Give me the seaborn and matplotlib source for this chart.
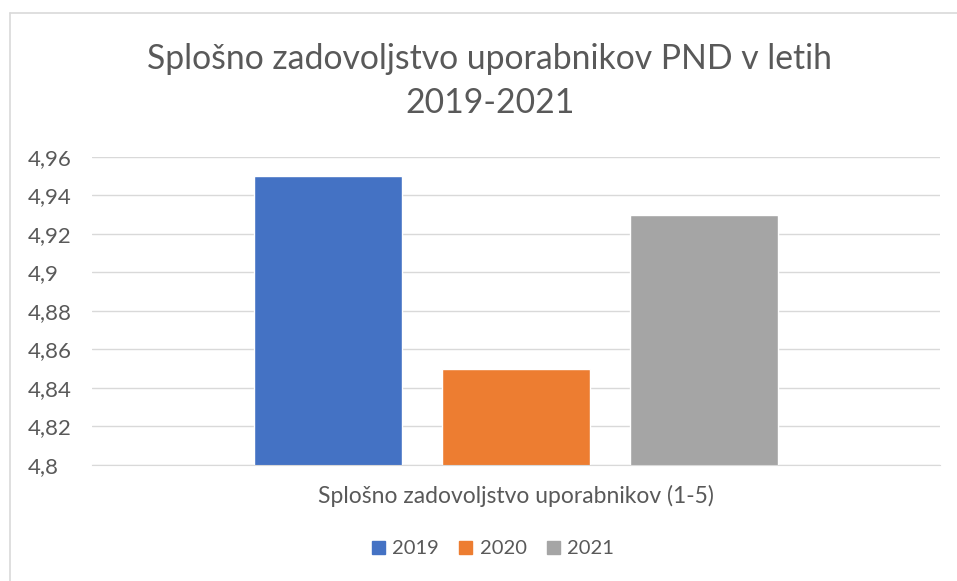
import matplotlib
matplotlib.use("Agg")
import matplotlib.pyplot as plt
import matplotlib.ticker as mticker
from matplotlib.lines import Line2D
import pandas as pd
import seaborn as sns

# data
category = ["Splošno zadovoljstvo uporabnikov (1-5)"]
years = ["2019", "2020", "2021"]
scores = [4.95, 4.85, 4.93]
colors = ["#4472C4", "#ED7D31", "#A5A5A5"]
yticks = [4.8, 4.82, 4.84, 4.86, 4.88, 4.9, 4.92, 4.94, 4.96]

df = pd.DataFrame({"cat": category * 3, "year": years, "score": scores})

sns.set_style("white")
plt.rcParams["font.family"] = ["Lato", "DejaVu Sans"]
txt = "#595959"

fig = plt.figure(figsize=(9.57, 5.81), dpi=100)
ax = fig.add_axes([92 / 957, 1 - 465 / 581, 848 / 957, 308 / 581])

sns.barplot(data=df, x="cat", y="score", hue="year", palette=colors,
            width=0.665, gap=0.213, ax=ax, legend=False, saturation=1)

ax.set_ylim(4.8, 4.96)
ax.set_xlim(-0.5, 0.5)
ax.set_yticks(yticks)
ax.yaxis.set_major_formatter(mticker.FuncFormatter(lambda v, p: f"{v:g}".replace(".", ",")))
ax.grid(axis="y", color="#D9D9D9", lw=1)
ax.set_axisbelow(True)
for s in ["top", "right", "left"]:
    ax.spines[s].set_visible(False)
ax.spines["bottom"].set_color("#D9D9D9")
ax.tick_params(axis="both", length=0, colors=txt)
ax.tick_params(axis="y", labelsize=16, pad=46.5)
for lab in ax.get_yticklabels():
    lab.set_horizontalalignment("left")
ax.tick_params(axis="x", pad=14, labelsize=16.5)
ax.set_xlabel("")
ax.set_ylabel("")

fig.text(490 / 957, 1 - 81 / 581, "Splošno zadovoljstvo uporabnikov PND v letih\n2019-2021",
         ha="center", va="center", fontsize=24.3, color=txt, linespacing=1.45)

handles = [plt.Rectangle((0, 0), 1, 1, color=c) for c in colors]
fig.legend(handles, years, loc="center", bbox_to_anchor=(493 / 957, 1 - 549 / 581),
           ncol=3, frameon=False, fontsize=14.5, labelcolor=txt,
           handlelength=0.65, handleheight=0.65, handletextpad=0.35, columnspacing=1.0)

# chart area border (only top/left visible in the crop)
fig.add_artist(Line2D([9.5 / 957, 9.5 / 957], [0, 1 - 12.5 / 581], transform=fig.transFigure, color="#D9D9D9", lw=1.2))
fig.add_artist(Line2D([9.5 / 957, 1], [1 - 12.5 / 581, 1 - 12.5 / 581], transform=fig.transFigure, color="#D9D9D9", lw=1.2))

fig.savefig("out.png", dpi=100)
